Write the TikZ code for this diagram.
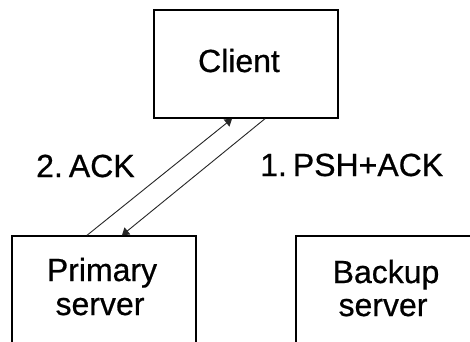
\documentclass[tikz,border=0pt]{standalone}
\usepackage{fontspec}
\setmainfont[FakeBold=0.6]{Liberation Sans}
\usetikzlibrary{arrows.meta}
\begin{document}
\begin{tikzpicture}[x=1pt,y=-1pt,
  box/.style={draw=black,line width=1.4pt,minimum width=184pt,minimum height=108pt,inner sep=0pt},
  txt/.style={inner sep=0pt,anchor=base,font=\fontsize{32}{34}\selectfont,text=black},
  msg/.style={draw=black!85,line width=0.9pt,-{Triangle[length=7pt,width=9pt]}}]
\useasboundingbox (0,0) rectangle (470,341);
\fill[white] (0,0) rectangle (470,341);
\clip (0,0) rectangle (470,341);
\node[box] (client) at (246,64) {};
\node[box] (primary) at (104,290) {};
\node[box] (backup) at (388,290) {};
\node[txt] (clienttxt) at (239,72) {Client};
\node[txt] (primtxt1) at (102,281) {Primary};
\node[txt] (primtxt2) at (100,315) {server};
\node[txt] (backtxt1) at (386,283) {Backup};
\node[txt] (backtxt2) at (383,316) {server};
\node[txt,anchor=base west] (ack) at (36,177) {2.\hspace{6pt}ACK};
\node[txt,anchor=base west] (psh) at (260,176) {1.\hspace{6pt}PSH+ACK};
\draw[msg] ([xshift=-17pt]primary.north) -- ([xshift=-14pt]client.south);
\draw[msg] ([xshift=19pt]client.south) -- ([xshift=18pt]primary.north);
\end{tikzpicture}
\end{document}
